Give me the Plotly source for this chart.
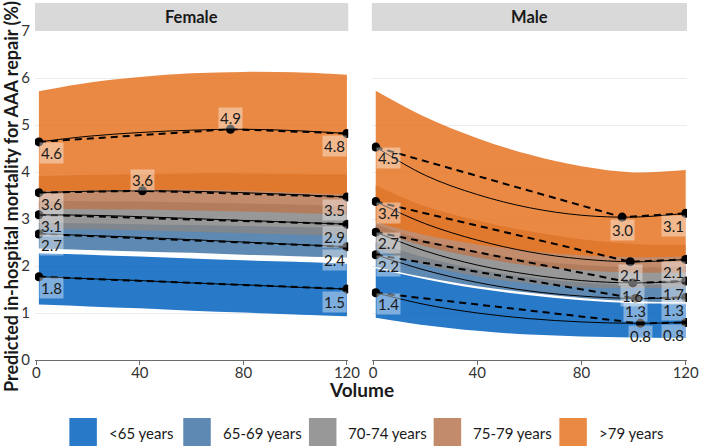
import plotly.graph_objects as go

FONT = "Lato"

groups = ["<65 years", "65-69 years", "70-74 years", "75-79 years", ">79 years"]
fill_colors = ["rgba(2,98,190,0.85)", "rgba(66,116,164,0.85)", "rgba(134,134,134,0.85)",
               "rgba(183,120,82,0.85)", "rgba(229,116,35,0.85)"]

x_grid = [1, 20, 40, 60, 80, 100, 120]

# ---------------- Female ----------------
f_mean = {
    "<65 years":   [1.77, 1.73, 1.69, 1.64, 1.60, 1.55, 1.51],
    "65-69 years": [2.68, 2.65, 2.61, 2.56, 2.51, 2.46, 2.41],
    "70-74 years": [3.09, 3.08, 3.05, 3.01, 2.97, 2.93, 2.89],
    "75-79 years": [3.56, 3.59, 3.60, 3.59, 3.56, 3.52, 3.47],
    ">79 years":   [4.64, 4.76, 4.84, 4.89, 4.91, 4.88, 4.82],
}
f_upper = {
    "<65 years":   [2.27, 2.24, 2.20, 2.16, 2.12, 2.09, 2.05],
    "65-69 years": [2.92, 2.91, 2.89, 2.87, 2.85, 2.83, 2.81],
    "70-74 years": [3.38, 3.38, 3.37, 3.35, 3.33, 3.31, 3.28],
    "75-79 years": [3.91, 3.94, 3.96, 3.97, 3.97, 3.96, 3.95],
    ">79 years":   [5.72, 5.90, 6.02, 6.10, 6.13, 6.12, 6.07],
}
f_lower = {
    "<65 years":   [1.18, 1.14, 1.10, 1.05, 1.01, 0.97, 0.93],
    "65-69 years": [2.37, 2.34, 2.31, 2.28, 2.24, 2.21, 2.18],
    "70-74 years": [2.79, 2.78, 2.76, 2.73, 2.70, 2.67, 2.64],
    "75-79 years": [3.21, 3.21, 3.20, 3.18, 3.16, 3.13, 3.10],
    ">79 years":   [3.59, 3.61, 3.62, 3.62, 3.60, 3.56, 3.52],
}
f_pt_x = {
    "<65 years": [1, 120], "65-69 years": [1, 120], "70-74 years": [1, 120],
    "75-79 years": [1, 41, 120], ">79 years": [1, 75, 120],
}
f_pt_y = {
    "<65 years": [1.77, 1.51], "65-69 years": [2.68, 2.41], "70-74 years": [3.09, 2.89],
    "75-79 years": [3.56, 3.60, 3.47], ">79 years": [4.64, 4.91, 4.82],
}

# ---------------- Male ----------------
m_mean = {
    "<65 years":   [1.43, 1.18, 1.00, 0.88, 0.81, 0.78, 0.80],
    "65-69 years": [2.24, 1.91, 1.65, 1.47, 1.36, 1.31, 1.33],
    "70-74 years": [2.72, 2.32, 2.02, 1.82, 1.69, 1.64, 1.68],
    "75-79 years": [3.37, 2.90, 2.55, 2.30, 2.15, 2.09, 2.14],
    ">79 years":   [4.53, 3.93, 3.52, 3.24, 3.08, 3.04, 3.12],
}
m_upper = {
    "<65 years":   [1.95, 1.72, 1.52, 1.38, 1.27, 1.21, 1.20],
    "65-69 years": [2.50, 2.18, 1.93, 1.76, 1.65, 1.60, 1.62],
    "70-74 years": [2.88, 2.55, 2.30, 2.13, 2.02, 1.97, 1.98],
    "75-79 years": [3.72, 3.27, 2.97, 2.74, 2.57, 2.47, 2.45],
    ">79 years":   [5.73, 5.17, 4.72, 4.37, 4.12, 3.99, 4.04],
}
m_lower = {
    "<65 years":   [0.90, 0.74, 0.62, 0.54, 0.50, 0.48, 0.47],
    "65-69 years": [1.98, 1.76, 1.57, 1.43, 1.32, 1.25, 1.23],
    "70-74 years": [2.37, 2.02, 1.78, 1.63, 1.55, 1.53, 1.55],
    "75-79 years": [2.74, 2.42, 2.18, 2.01, 1.91, 1.86, 1.86],
    ">79 years":   [2.93, 2.66, 2.46, 2.32, 2.23, 2.19, 2.20],
}
m_pt_x = {
    "<65 years": [1, 102.6, 120], "65-69 years": [1, 100.7, 120], "70-74 years": [1, 99.7, 120],
    "75-79 years": [1, 98.7, 120], ">79 years": [1, 95.6, 120],
}
m_pt_y = {
    "<65 years": [1.43, 0.78, 0.80], "65-69 years": [2.24, 1.31, 1.33], "70-74 years": [2.72, 1.64, 1.68],
    "75-79 years": [3.37, 2.09, 2.14], ">79 years": [4.53, 3.04, 3.12],
}

x_ticks = [0, 40, 80, 120]
y_ticks = [0, 1, 2, 3, 4, 5, 6, 7]

fig = go.Figure()
annotations = []

panels = [
    ("x", "y", f_mean, f_upper, f_lower, f_pt_x, f_pt_y, "above"),
    ("x2", "y2", m_mean, m_upper, m_lower, m_pt_x, m_pt_y, "below"),
]

for xa, ya, mean, up, lo, px, py, mid_pos in panels:
    # ribbons
    for g, col in zip(groups, fill_colors):
        fig.add_trace(go.Scatter(x=x_grid, y=lo[g], mode="lines", xaxis=xa, yaxis=ya,
                                 line=dict(width=0, shape="spline", color=col),
                                 showlegend=False, hoverinfo="skip"))
        fig.add_trace(go.Scatter(x=x_grid, y=up[g], mode="lines", xaxis=xa, yaxis=ya,
                                 line=dict(width=0, shape="spline", color=col),
                                 fill="tonexty", fillcolor=col,
                                 showlegend=False, hoverinfo="skip"))
    # lines and points
    for g in groups:
        fig.add_trace(go.Scatter(x=x_grid, y=mean[g], mode="lines", xaxis=xa, yaxis=ya,
                                 line=dict(width=1, color="black", shape="spline"),
                                 showlegend=False, hoverinfo="skip"))
        fig.add_trace(go.Scatter(x=px[g], y=py[g], mode="lines", xaxis=xa, yaxis=ya,
                                 line=dict(width=2, color="black", dash="7px,5px"),
                                 showlegend=False, hoverinfo="skip"))
        fig.add_trace(go.Scatter(x=px[g], y=py[g], mode="markers", xaxis=xa, yaxis=ya,
                                 marker=dict(size=9, color="black"),
                                 showlegend=False, hoverinfo="skip"))
        n = len(px[g])
        for i, (xv, yv) in enumerate(zip(px[g], py[g])):
            if i == 0:
                xanc, yanc, ys = "left", "top", 0
            elif i == n - 1:
                xanc, yanc, ys = "right", "top", -2
            else:
                xanc = "center"
                if mid_pos == "above":
                    yanc, ys = "bottom", 0
                else:
                    yanc, ys = "top", -2
            annotations.append(dict(x=xv, y=yv, xref=xa, yref=ya, text=f"{yv:.1f}",
                                    showarrow=False, xanchor=xanc, yanchor=yanc, yshift=ys,
                                    bgcolor="rgba(255,255,255,0.4)", borderpad=1,
                                    font=dict(family=FONT, size=15, color="#1a1a1a")))

# strips
L0, L1, R0, R1 = 0.0, 0.4804, 0.5166, 1.0
shapes = [
    dict(type="rect", xref="paper", yref="paper", x0=L0, x1=L1, y0=1.0, y1=1.0851,
         fillcolor="#d9d9d9", line=dict(width=0), layer="above"),
    dict(type="rect", xref="paper", yref="paper", x0=R0, x1=R1, y0=1.0, y1=1.0851,
         fillcolor="#d9d9d9", line=dict(width=0), layer="above"),
]
annotations.append(dict(x=(L0 + L1) / 2, y=1.0426, xref="paper", yref="paper", text="<b>Female</b>",
                        showarrow=False, xanchor="center", yanchor="middle",
                        font=dict(family=FONT, size=16.5, color="#1a1a1a")))
annotations.append(dict(x=(R0 + R1) / 2, y=1.0426, xref="paper", yref="paper", text="<b>Male</b>",
                        showarrow=False, xanchor="center", yanchor="middle",
                        font=dict(family=FONT, size=16.5, color="#1a1a1a")))

# axis titles
annotations.append(dict(x=0.5, y=-0.091, xref="paper", yref="paper", text="<b>Volume</b>",
                        showarrow=False, xanchor="center", yanchor="middle",
                        font=dict(family=FONT, size=19, color="#1a1a1a")))
annotations.append(dict(x=-0.036, y=0.497, xref="paper", yref="paper",
                        text="<b>Predicted in-hospital mortality for AAA repair (%)</b>",
                        showarrow=False, textangle=-90, xanchor="center", yanchor="middle",
                        font=dict(family=FONT, size=18, color="#1a1a1a")))

# legend (manual)
PW = 664.0
PH = 329.0
def px_to_paper_x(p):
    return (p - 35) / PW
def py_to_paper_y(p):
    return (360 - p) / PH

leg_x = [70, 186, 314, 441, 569]
for g, col, lx in zip(groups, fill_colors, leg_x):
    shapes.append(dict(type="rect", xref="paper", yref="paper",
                       x0=px_to_paper_x(lx), x1=px_to_paper_x(lx + 28),
                       y0=py_to_paper_y(446), y1=py_to_paper_y(418),
                       fillcolor=col, line=dict(width=0)))
    annotations.append(dict(x=px_to_paper_x(lx + 38), y=py_to_paper_y(433), xref="paper", yref="paper",
                            text=g, showarrow=False, xanchor="left", yanchor="middle",
                            font=dict(family=FONT, size=15, color="#1a1a1a")))

xaxis_common = dict(range=[-0.5, 120.5], tickvals=x_ticks, showgrid=False, zeroline=False,
                    showline=True, linecolor="#6b6b6b", linewidth=1, ticks="outside", ticklen=4,
                    tickcolor="#6b6b6b", ticklabelstandoff=-5,
                    tickfont=dict(family=FONT, size=15, color="#333333"))
yaxis_common = dict(range=[0, 7], tickvals=y_ticks, showgrid=True, gridcolor="#ececec", gridwidth=1,
                    zeroline=False, showline=False, ticks="",
                    tickfont=dict(family=FONT, size=15, color="#333333"))

fig.update_layout(
    width=709, height=446,
    margin=dict(l=35, r=10, t=31, b=86),
    plot_bgcolor="white", paper_bgcolor="white",
    showlegend=False,
    xaxis=dict(domain=[L0, L1], anchor="y", **xaxis_common),
    xaxis2=dict(domain=[R0, R1], anchor="y2", **xaxis_common),
    yaxis=dict(domain=[0, 1], anchor="x", showticklabels=True, ticklabelstandoff=4, **yaxis_common),
    yaxis2=dict(domain=[0, 1], anchor="x2", showticklabels=False, **yaxis_common),
    shapes=shapes,
    annotations=annotations,
)

fig.write_html("out.html", config={"displayModeBar": False},
               post_script="document.body.style.margin='0';document.body.style.overflow='hidden';")
